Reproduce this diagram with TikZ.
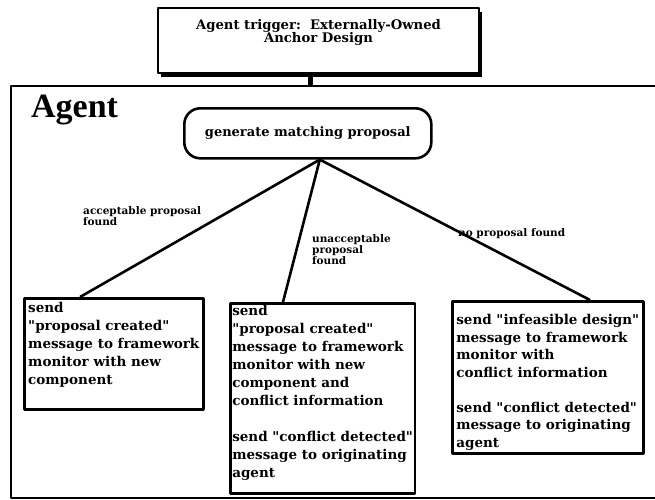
\documentclass[tikz,border=0pt]{standalone}
\usepackage{fontspec}
\setmainfont{DejaVu Serif}[Ligatures=TeXOff]
\newfontfamily\agentfont{Liberation Serif}
\usetikzlibrary{shadows}
\begin{document}
\begin{tikzpicture}[x=1pt,y=-1pt,line join=round,font=\bfseries,
	msgbox/.style={draw,line width=2.6pt,anchor=north west,align=left,inner sep=2pt,font=\bfseries\fontsize{13.5}{18}\selectfont},
	lbl/.style={anchor=north west,align=left,inner sep=0pt,font=\bfseries\fontsize{10.5}{11}\selectfont}]
	\useasboundingbox (0,0) rectangle (655,499);
	% trigger and agent frame
	\node[draw,fill=white,line width=2pt,minimum width=321pt,minimum height=65pt,anchor=north west,align=center,text depth=19pt,
		font=\bfseries\fontsize{13.2}{12.5}\selectfont,
		drop shadow={shadow xshift=3pt,shadow yshift=-4pt,opacity=1,fill=black}] (trig) at (157,7) {Agent trigger:\ \ Externally-Owned\\Anchor Design};
	\node[draw,line width=2pt,minimum width=700pt,minimum height=412pt,anchor=north west] (agent) at (10,85) {};
	\draw[line width=5pt] ([xshift=-8pt]trig.south) -- ([xshift=-8pt]trig.south |- agent.north);
	\node[anchor=base west,inner sep=0pt,font=\agentfont\bfseries\fontsize{34}{34}\selectfont] (title) at (31,117) {Agent};
	\node[draw,line width=2.6pt,rounded corners=16pt,minimum width=247pt,minimum height=50pt,anchor=north west,
		font=\bfseries\fontsize{13}{14}\selectfont] (gen) at (183,107) {generate matching proposal};
	% outcomes
	\node[msgbox,minimum width=179pt,text height=84pt,text depth=23pt] (found) at (23,297) {send\\"proposal created"\\message to framework\\monitor with new\\component};
	\node[msgbox,minimum width=184pt,text height=172pt,text depth=14pt] (unacc) at (229,302) {send\\"proposal created"\\message to framework\\monitor with new\\component and\\conflict information\\[18pt]send "conflict detected"\\message to originating\\agent};
	\node[msgbox,minimum width=191pt,text height=144pt,text depth=4pt,font=\bfseries\fontsize{13.5}{17.5}\selectfont] (none) at (451,300) {send "infeasible design"\\message to framework\\monitor with\\conflict information\\[17.5pt]send "conflict detected"\\message to originating\\agent};
	\coordinate (apex) at ([xshift=12pt]gen.south);
	\draw[line width=2.6pt] (apex) -- ([xshift=57pt]found.north west);
	\draw[line width=2.6pt] (apex) -- ([xshift=54pt]unacc.north west);
	\draw[line width=2.6pt] (apex) -- ([xshift=139pt]none.north west);
	\node[lbl] (l1) at (83,206) {acceptable proposal\\found};
	\node[lbl] (l2) at (312,234) {unacceptable\\proposal\\found};
	\node[lbl] (l3) at (458,228) {no proposal found};
\end{tikzpicture}
\end{document}
